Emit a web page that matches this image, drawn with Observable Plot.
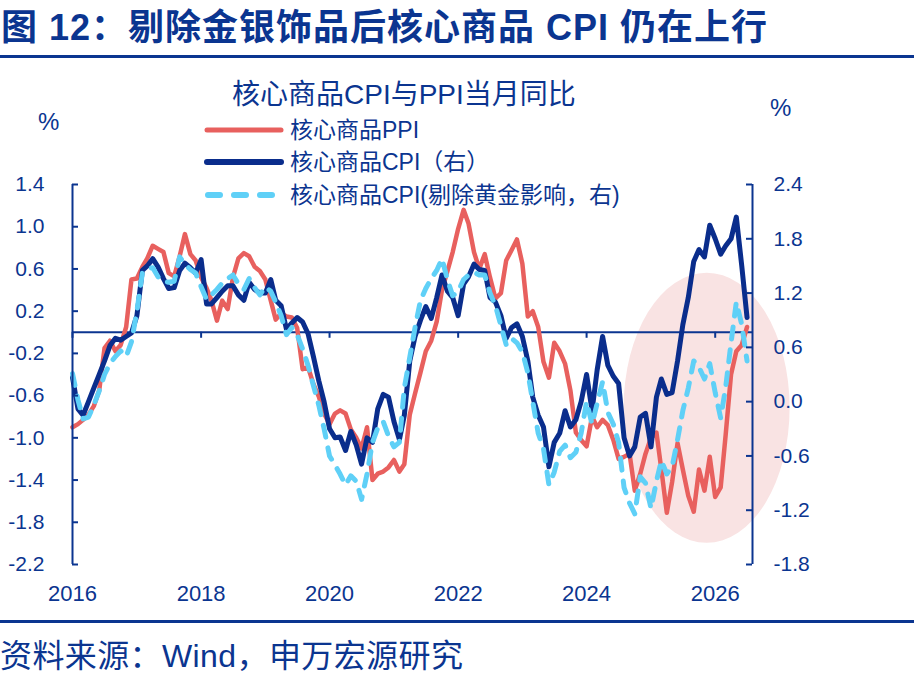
<!DOCTYPE html>
<html><head><meta charset="utf-8">
<script src="https://cdn.jsdelivr.net/npm/d3@7"></script>
<script src="https://cdn.jsdelivr.net/npm/@observablehq/plot@0.6"></script>
<style>
body{margin:0;background:#fff;}
#wrap{position:relative;width:914px;height:674px;overflow:hidden;font-family:"Liberation Sans","Noto Sans CJK SC",sans-serif;color:#0b3590;}
#title{position:absolute;left:1px;top:4px;font-size:36px;letter-spacing:1px;font-weight:bold;white-space:nowrap;line-height:48px;}
#tline{position:absolute;left:0;top:55px;width:914px;height:3px;background:#0b3590;}
#chart{position:absolute;left:0;top:58px;}
#fline{position:absolute;left:0;top:620px;width:914px;height:3px;background:#0b3590;}
#foot{position:absolute;left:0;top:636px;font-size:32px;letter-spacing:0.4px;line-height:40px;white-space:nowrap;}
.abs{position:absolute;white-space:nowrap;}
.lg{font-size:23px;line-height:30px;}
</style></head>
<body>
<div id="wrap">
  <div id="title">图 12：剔除金银饰品后核心商品 CPI 仍在上行</div>
  <div id="tline"></div>
  <div id="chart"></div>
  <div class="abs" style="left:232px;top:78px;font-size:28px;line-height:34px;">核心商品CPI与PPI当月同比</div>
  <div class="abs" style="left:38px;top:108px;font-size:24px;line-height:28px;">%</div>
  <div class="abs" style="left:770px;top:94px;font-size:24px;line-height:28px;">%</div>
  <svg class="abs" style="left:200px;top:115px;" width="90" height="95">
    <line x1="7" x2="81" y1="15" y2="15" stroke="#e8605e" stroke-width="5" stroke-linecap="round"/>
    <line x1="7" x2="81" y1="47" y2="47" stroke="#0a2d8c" stroke-width="6" stroke-linecap="round"/>
    <line x1="8" x2="82" y1="80" y2="80" stroke="#5fd0f7" stroke-width="6" stroke-linecap="round" stroke-dasharray="12,14"/>
  </svg>
  <div class="abs lg" style="left:290px;top:115px;">核心商品PPI</div>
  <div class="abs lg" style="left:290px;top:147px;">核心商品CPI（右）</div>
  <div class="abs lg" style="left:290px;top:180px;">核心商品CPI(剔除黄金影响，右)</div>
  <div id="fline"></div>
  <div id="foot">资料来源：Wind，申万宏源研究</div>
</div>
<script>
// Monthly data, Jan 2016 – Jul 2026
const ppi = [
  -0.90, -0.87, -0.83, -0.78, -0.70, -0.55, -0.15, -0.08, -0.18, -0.12, 0.05, 0.50,
  0.51, 0.62, 0.70, 0.82, 0.79, 0.76, 0.56, 0.53, 0.72, 0.93, 0.74, 0.68,
  0.52, 0.42, 0.30, 0.11, 0.30, 0.22, 0.52, 0.70, 0.75, 0.72, 0.62, 0.58,
  0.50, 0.30, 0.12, 0.18, 0.15, 0.14, 0.04, -0.35, -0.33, -0.49, -0.61, -0.77,
  -0.87, -0.77, -0.74, -0.77, -0.92, -1.00, -1.10, -0.90, -1.40, -1.34, -1.32, -1.28,
  -1.21, -1.32, -1.25, -0.78, -0.58, -0.38, -0.18, -0.08, 0.10, 0.40, 0.58, 0.76,
  0.98, 1.16, 1.03, 0.76, 0.60, 0.74, 0.52, 0.32, 0.37, 0.68, 0.78, 0.88,
  0.65, 0.15, 0.20, 0.05, -0.28, -0.43, -0.10, -0.18, -0.30, -0.55, -0.95, -1.02,
  -1.08, -0.80, -0.90, -0.83, -0.88, -1.02, -1.20, -1.18, -1.15, -1.50, -1.34, -1.15,
  -1.00, -0.95, -1.30, -1.71, -1.42, -1.05, -1.30, -1.55, -1.70, -1.30, -1.50, -1.18,
  -1.56, -1.47, -0.98, -0.40, -0.18, -0.12, 0.05
];
const cpi = [
  0.27, -0.08, -0.15, 0.00, 0.15, 0.30, 0.45, 0.62, 0.70, 0.68, 0.72, 0.76,
  0.95, 1.45, 1.50, 1.58, 1.49, 1.36, 1.25, 1.26, 1.45, 1.53, 1.48, 1.42,
  1.57, 1.08, 1.08, 1.15, 1.22, 1.28, 1.28, 1.18, 1.12, 1.32, 1.24, 1.20,
  1.20, 1.35, 1.12, 1.06, 0.80, 0.87, 0.93, 0.88, 0.75, 0.50, 0.23, 0.00,
  -0.30, -0.40, -0.39, -0.54, -0.33, -0.48, -0.69, -0.40, -0.45, -0.08, 0.08, 0.05,
  -0.22, -0.42, -0.15, 0.45, 0.72, 0.90, 1.05, 0.92, 1.15, 1.40, 1.22, 1.15,
  0.95, 1.30, 1.38, 1.52, 1.46, 1.45, 1.15, 1.10, 0.95, 0.70, 0.82, 0.86,
  0.72, 0.45, 0.05, -0.15, -0.28, -0.72, -0.45, -0.35, -0.10, -0.28, -0.20, 0.00,
  0.30, -0.10, 0.35, 0.72, 0.40, 0.28, 0.20, -0.40, -0.60, -0.50, -0.17, -0.13,
  -0.50, 0.05, 0.25, 0.08, 0.10, 0.45, 0.85, 1.15, 1.55, 1.68, 1.60, 1.95,
  1.80, 1.63, 1.72, 1.80, 2.04, 1.50, 0.93
];
const cpiExGold = [
  0.31, 0.02, -0.19, -0.17, -0.04, 0.12, 0.30, 0.42, 0.50, 0.56, 0.50, 0.66,
  1.00, 1.42, 1.47, 1.48, 1.38, 1.33, 1.32, 1.33, 1.60, 1.52, 1.46, 1.42,
  1.27, 1.13, 1.18, 1.24, 1.31, 1.36, 1.40, 1.30, 1.24, 1.36, 1.26, 1.18,
  1.27, 1.22, 1.10, 0.95, 0.74, 0.82, 0.74, 0.58, 0.40, 0.18, -0.04, -0.30,
  -0.60, -0.70, -0.80, -0.92, -0.82, -0.88, -1.08, -0.80, -0.45, -0.29, -0.22, -0.38,
  -0.50, -0.45, 0.15, 0.49, 0.82, 1.12, 1.25, 1.36, 1.45, 1.58, 1.35, 1.17,
  1.22, 1.35, 1.40, 1.43, 1.40, 1.40, 1.20, 1.06, 0.84, 0.63, 0.70, 0.65,
  0.55, 0.32, 0.00, -0.35, -0.52, -0.92, -0.78, -0.55, -0.48, -0.62, -0.56, -0.35,
  0.00, -0.25, -0.02, 0.22, -0.12, -0.25, -0.45, -0.95, -1.12, -1.24, -0.83, -0.90,
  -1.18, -0.88, -0.65, -0.80, -0.72, -0.42, -0.10, 0.15, 0.45, 0.38, 0.25, 0.42,
  0.10, -0.18, 0.15, 0.65, 1.10, 0.85, 0.45
];
const leftTicks = [-2.2, -1.8, -1.4, -1.0, -0.6, -0.2, 0.2, 0.6, 1.0, 1.4];
const rightTicks = [-1.8, -1.2, -0.6, 0.0, 0.6, 1.2, 1.8, 2.4];
const xTickYears = [2016, 2018, 2020, 2022, 2024, 2026];

const navy = "#0b3590", red = "#e8605e", dark = "#0a2d8c", light = "#5fd0f7";
const toLeft = d3.scaleLinear().domain([-1.8, 2.4]).range([-2.2, 1.4]);
const xStart = new Date(Date.UTC(2016, 0, 1));
const xEnd = new Date(Date.UTC(2026, 7, 1));
const xTicks = xTickYears.map(y => new Date(Date.UTC(y, 0, 1)));
const rows = ppi.map((v, i) => ({
  date: new Date(Date.UTC(2016, i, 1)),
  ppi: v,
  cpi: toLeft(cpi[i]),
  ex: toLeft(cpiExGold[i])
}));

// highlight ellipse (annotation), positioned through the scales
const ellipseCenter = {date: new Date(Date.UTC(2025, 10, 16)), value: -0.72};
function ellipseMark(index, scales) {
  const e = document.createElementNS("http://www.w3.org/2000/svg", "ellipse");
  e.setAttribute("cx", scales.x(ellipseCenter.date));
  e.setAttribute("cy", scales.y(ellipseCenter.value));
  e.setAttribute("rx", 83);
  e.setAttribute("ry", 135);
  e.setAttribute("fill", "#f9e3e3");
  return e;
}

const plot = Plot.plot({
  width: 914, height: 560,
  marginTop: 126, marginBottom: 54, marginLeft: 72, marginRight: 162,
  x: {type: "utc", domain: [xStart, xEnd]},
  y: {domain: [-2.2, 1.4]},
  style: {fontFamily: '"Liberation Sans","Noto Sans CJK SC",sans-serif', fontSize: "21px", color: navy, background: "transparent", overflow: "visible"},
  marks: [
    ellipseMark,
    Plot.ruleY([0], {stroke: navy, strokeWidth: 2}),
    Plot.line(rows, {x: "date", y: "ppi", stroke: red, strokeWidth: 4.5, strokeLinejoin: "round"}),
    Plot.line(rows, {x: "date", y: "cpi", stroke: dark, strokeWidth: 5, strokeLinejoin: "round"}),
    Plot.line(rows, {x: "date", y: "ex", stroke: light, strokeWidth: 5, strokeDasharray: "12,11", strokeLinecap: "round", strokeLinejoin: "round"}),
    Plot.ruleX([xStart], {stroke: navy, strokeWidth: 2}),
    Plot.ruleX([xEnd], {stroke: navy, strokeWidth: 2}),
    Plot.ruleY(leftTicks, {x1: () => xStart, x2: () => xStart, insetRight: -6, stroke: navy, strokeWidth: 2}),
    Plot.ruleY(rightTicks, {y: d => toLeft(d), x1: () => xEnd, x2: () => xEnd, insetLeft: -6, stroke: navy, strokeWidth: 2}),
    Plot.ruleX(xTicks, {y1: () => 0, y2: () => 0, insetBottom: -6, stroke: navy, strokeWidth: 2}),
    Plot.axisY(leftTicks, {anchor: "left", tickSize: 0, tickPadding: 28, tickFormat: d => d.toFixed(1), fontSize: 21, fill: navy, label: null}),
    Plot.axisX(xTicks, {anchor: "bottom", tickSize: 0, tickPadding: 21, tickFormat: d3.utcFormat("%Y"), fontSize: 22, fill: navy, label: null}),
    Plot.text(rightTicks, {x: () => xEnd, y: d => toLeft(d), text: d => d.toFixed(1), textAnchor: "start", dx: 21, fontSize: 21, fill: navy})
  ]
});
document.getElementById("chart").appendChild(plot);
</script>
</body></html>
